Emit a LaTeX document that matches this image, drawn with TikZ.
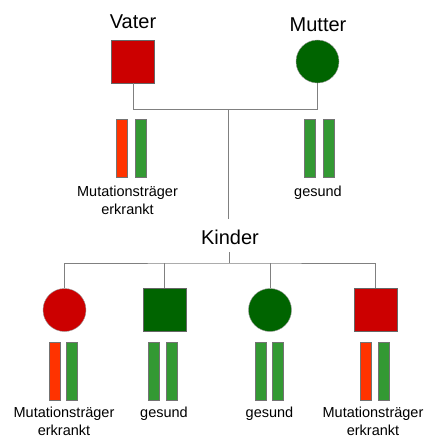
\documentclass[tikz,border=0pt]{standalone}
\usepackage{fontspec}
\setmainfont{Liberation Sans}
\definecolor{dred}{RGB}{204,0,0}
\definecolor{dgreen}{RGB}{0,100,0}
\definecolor{bred}{RGB}{255,51,0}
\definecolor{bgreen}{RGB}{51,153,51}
\definecolor{lgray}{RGB}{128,128,128}
\begin{document}
\begin{tikzpicture}[x=1pt,y=-1pt,
  sq/.style={draw=black!60,line width=0.6pt,minimum size=43pt,inner sep=0pt,rectangle},
  ci/.style={draw=black!40,line width=0.4pt,minimum size=43pt,inner sep=0pt,circle},
  bar/.style={draw=black!55,line width=0.5pt,minimum width=11pt,minimum height=58pt,inner sep=0pt,rectangle},
  big/.style={font=\fontsize{20}{24}\selectfont,anchor=base,inner sep=0pt},
  small/.style={font=\fontsize{14.5}{18}\selectfont,align=center,anchor=base,inner sep=0pt},
  conn/.style={draw=lgray,line width=1pt}]
\useasboundingbox (0,0) rectangle (424,440);
% parents
\node[big] (vl) at (133,28) {Vater};
\node[big] (ml) at (318,31) {Mutter};
\node[sq,fill=dred] (v) at (133,61.5) {};
\node[ci,fill=dgreen] (m) at (317.5,61.5) {};
\node[bar,fill=bred] (v1) at (122,148.5) {};
\node[bar,fill=bgreen] (v2) at (140.3,148.5) {};
\node[bar,fill=bgreen] (m1) at (310.2,148.5) {};
\node[bar,fill=bgreen] (m2) at (328.7,148.5) {};
\node[small] (vt1) at (127.5,196.5) {Mutationsträger};
\node[small] (vt2) at (127.5,214) {erkrankt};
\node[small] (mt) at (318,196.5) {gesund};
% parent connectors
\coordinate (j1) at (133,109);
\coordinate (j2) at (317.5,109);
\coordinate (jm) at (228,109);
\node[big] (kl) at (230,244) {Kinder};
\coordinate (jt) at (228,219);
\draw[conn] (v.south) -- (j1) -- (j2) -- (m.south);
\draw[conn] (jm) -- (jt);
% children
\node[ci,fill=dred] (c1) at (64.5,310) {};
\node[sq,fill=dgreen] (c2) at (164.5,310) {};
\node[ci,fill=dgreen] (c3) at (270,310) {};
\node[sq,fill=dred] (c4) at (375.5,310) {};
\coordinate (k0) at (229,252);
\coordinate (k1) at (229,263);
\draw[conn] (k0) -- (k1);
\draw[conn] (c1.north) |- (k1) -| (c4.north);
\draw[conn] (c2.north) -- (c2.north |- k1);
\draw[conn] (c3.north) -- (c3.north |- k1);
% child bars
\node[bar,fill=bred] (c1a) at (54.5,371) {};
\node[bar,fill=bgreen] (c1b) at (72.2,371) {};
\node[bar,fill=bgreen] (c2a) at (153.8,371) {};
\node[bar,fill=bgreen] (c2b) at (171.5,371) {};
\node[bar,fill=bgreen] (c3a) at (260.3,371) {};
\node[bar,fill=bgreen] (c3b) at (277.5,371) {};
\node[bar,fill=bred] (c4a) at (365.5,371) {};
\node[bar,fill=bgreen] (c4b) at (383.5,371) {};
% child labels
\node[small] (t1a) at (64,417) {Mutationsträger};
\node[small] (t1b) at (64,435) {erkrankt};
\node[small] (t2) at (164,417) {gesund};
\node[small] (t3) at (269.5,417) {gesund};
\node[small] (t4a) at (373,417) {Mutationsträger};
\node[small] (t4b) at (373,435) {erkrankt};
\end{tikzpicture}
\end{document}
